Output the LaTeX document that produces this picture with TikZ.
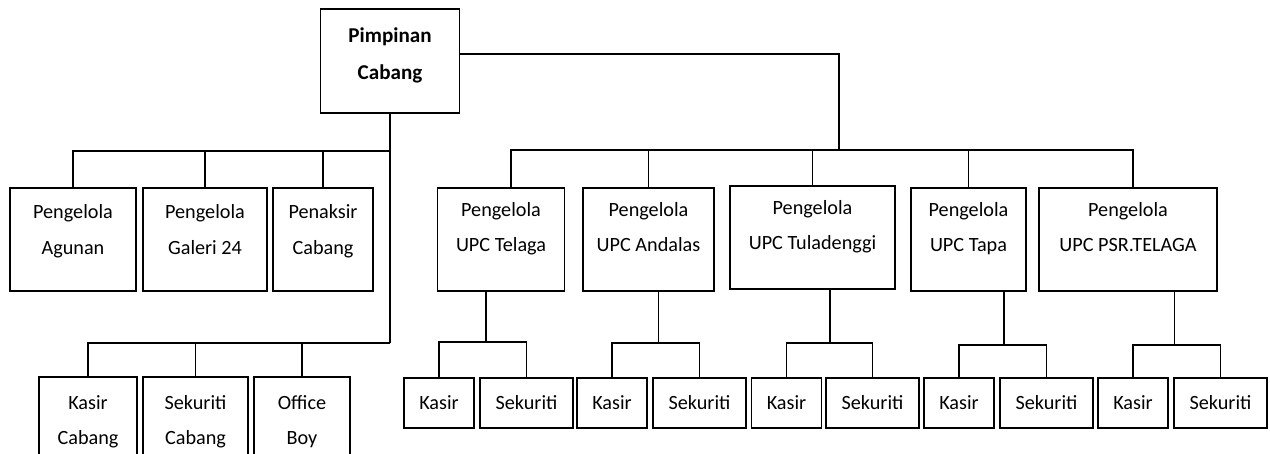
\documentclass[tikz,border=0pt]{standalone}
\usepackage{fontspec}
\setmainfont{Carlito}
\usetikzlibrary{calc}

\tikzset{
  box/.style={draw, line width=1pt, inner sep=0pt, align=center,
    font=\fontsize{11.5}{20}\selectfont},
  lift/.style={execute at end node={\rule[-#1]{0pt}{#1}}},
  link/.style={line width=1pt},
}

\begin{document}
\begin{tikzpicture}[x=0.2mm, y=-0.2mm]
\useasboundingbox (0,0) rectangle (1270,454);
\clip (0,0) rectangle (1270,454);

% head
\node[box, lift=3mm, font=\fontsize{12}{21}\selectfont\bfseries,
  minimum width=27.8mm, minimum height=20.8mm] (pc) at (390,61) {Pimpinan\\Cabang};

% branch staff
\node[box, lift=4mm, minimum width=25.2mm, minimum height=20.6mm] (agunan) at (73,239.5) {Pengelola\\Agunan};
\node[box, lift=4mm, minimum width=24.8mm, minimum height=20.6mm] (galeri) at (205,239.5) {Pengelola\\Galeri 24};
\node[box, lift=4mm, minimum width=20mm, minimum height=20.6mm] (penaksir) at (323,239.5) {Penaksir\\Cabang};

\node[box, minimum width=19.6mm, minimum height=18mm] (kc) at (88,422) {Kasir\\Cabang};
\node[box, minimum width=21mm, minimum height=18mm] (sc) at (195.5,422) {Sekuriti\\Cabang};
\node[box, minimum width=19.2mm, minimum height=18mm] (ob) at (302,422) {Office\\Boy};

% units
\node[box, lift=5mm, minimum width=25.4mm, minimum height=20.6mm] (telaga) at (501,239.5) {Pengelola\\UPC Telaga};
\node[box, lift=5mm, minimum width=26.2mm, minimum height=20.6mm] (andalas) at (648.5,239.5) {Pengelola\\UPC Andalas};
\node[box, lift=5mm, minimum width=33mm, minimum height=20.6mm] (tuladenggi) at (812.5,237.5) {Pengelola\\UPC Tuladenggi};
\node[box, lift=5mm, minimum width=23mm, minimum height=20.6mm] (tapa) at (968.5,239.5) {Pengelola\\UPC Tapa};
\node[box, lift=5mm, minimum width=35.6mm, minimum height=20.6mm] (psr) at (1128,239.5) {Pengelola\\UPC PSR.TELAGA};

\foreach \g/\kx/\sx/\jx/\jy in {telaga/439/526.5/486/342, andalas/612/699.5/658.6/343,
    tuladenggi/786.5/872.5/830/343, tapa/959/1046.5/1004/345, psr/1133/1220.5/1174.5/345}{
  \node[box, minimum width=14mm, minimum height=10mm] (k\g) at (\kx,403) {Kasir};
  \node[box, minimum width=18.6mm, minimum height=10mm] (s\g) at (\sx,403) {Sekuriti};
  \coordinate (j\g) at (\jx,\jy);
  \draw[link] (j\g |- \g.south) -- (j\g);
  \draw[link] (j\g) -| (k\g.north);
  \draw[link] (j\g) -| (s\g.north);
}

% connectors
\path (pc.south) ++(0,37) coordinate (jl) ++(0,192) coordinate (jb);
\coordinate (jr) at (839,150);
\draw[link] (pc.south) -- (jb);
\draw[link] (jl) -| (agunan.north);
\draw[link] (jl) -| (galeri.north);
\draw[link] (jl) -| (penaksir.north);
\draw[link] (jb) -| (kc.north);
\draw[link] (jb) -| (sc.north);
\draw[link] (jb) -| (ob.north);
\draw[link] ([yshift=1.4mm]pc.east) -| (jr);
\draw[link] (jr) -| ([xshift=2mm]telaga.north);
\draw[link] (jr) -| (andalas.north);
\draw[link] (jr) -| (tuladenggi.north);
\draw[link] (jr) -| (tapa.north);
\draw[link] (jr) -| ([xshift=1mm]psr.north);
\end{tikzpicture}
\end{document}
